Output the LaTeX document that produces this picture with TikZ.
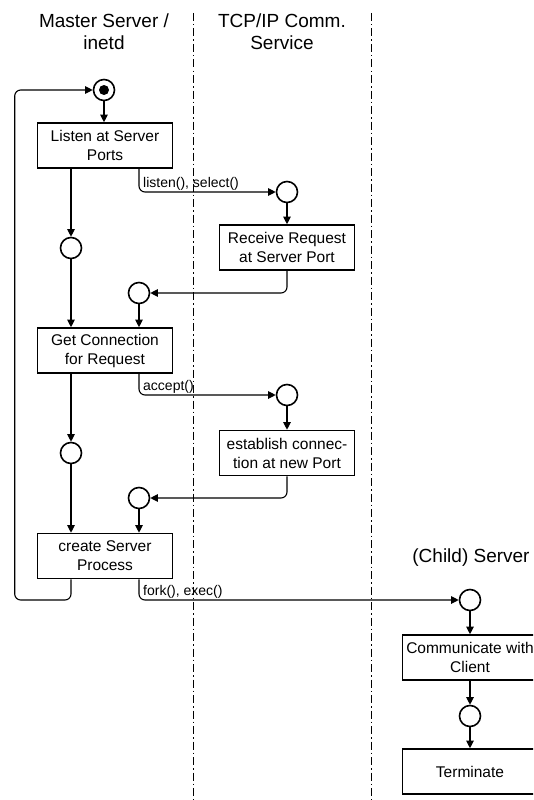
\documentclass[tikz,border=0pt]{standalone}
\usepackage{fontspec}
\setmainfont{Liberation Sans}
\usetikzlibrary{arrows.meta}
\begin{document}
\begin{tikzpicture}[x=1pt,y=-1pt,
 box/.style={draw, line width=1.6pt, minimum width=135pt, minimum height=45pt, inner sep=0pt, align=center, font=\fontsize{15.5}{19}\selectfont},
 st/.style={draw, circle, line width=1.6pt, minimum size=21pt, inner sep=0pt},
 conn/.style={line width=1.1pt, -{Triangle[length=7.5pt,width=7.5pt]}, rounded corners=6pt},
 lbl/.style={font=\fontsize{14}{16}\selectfont, anchor=base west, inner sep=0pt},
 head/.style={font=\fontsize{19}{22}\selectfont, align=center},
 lane/.style={line width=0.9pt, dash pattern=on 8pt off 3pt on 1.5pt off 3pt}]
\useasboundingbox (0,0) rectangle (533,800);
\clip (0,0) rectangle (533,800);
% lanes
\coordinate (la1) at (193,13); \coordinate (lb1) at (193,800);
\coordinate (la2) at (371,13); \coordinate (lb2) at (371,800);
\draw[lane] (la1) -- (lb1);
\draw[lane] (la2) -- (lb2);
% headers
\node[head] (h1) at (104,32) {Master Server /\\inetd};
\node[head] (h2) at (282,32) {TCP/IP Comm.\\Service};
\node[head] (h3) at (471,558) {(Child) Server};
% nodes
\node[st] (start) at (104,90) {};
\fill (start.center) circle (5pt);
\node[box] (listen) at (105,145.5) {Listen at Server\\Ports};
\node[st] (c1) at (287,192) {};
\node[box] (recv) at (287,247.5) {Receive Request\\at Server Port};
\node[st] (m1) at (71,248) {};
\node[st] (j1) at (139,293) {};
\node[box] (getc) at (105,350.5) {Get Connection\\for Request};
\node[st] (c2) at (287,395) {};
\node[box] (est) at (287,453) {establish connec-\\tion at new Port};
\node[st] (m2) at (71,453) {};
\node[st] (j2) at (139,498) {};
\node[box] (create) at (105,556) {create Server\\Process};
\node[st] (cc) at (470,600) {};
\node[box] (comm) at (470,657.5) {Communicate with\\Client};
\node[st] (cc2) at (470,716) {};
\node[box] (term) at (470,771.5) {Terminate};
% labels
\node[lbl] (l1) at (143,187.5) {listen(), select()};
\node[lbl] (l2) at (143,390.5) {accept()};
\node[lbl] (l3) at (143,595.5) {fork(), exec()};
% connectors
\coordinate (lp) at (14.7,600);
\draw[conn] ([xshift=-34pt]create.south) |- (lp) |- (start.west);
\draw[conn] (start.south) -- (start.south |- listen.north);
\draw[conn] ([xshift=34pt]listen.south) |- (c1.west);
\draw[conn] (c1.south) -- (recv.north);
\draw[conn] (recv.south) |- (j1.east);
\draw[conn] ([xshift=-34pt]listen.south) -- (m1.north);
\draw[conn] (m1.south) -- (m1.south |- getc.north);
\draw[conn] (j1.south) -- (j1.south |- getc.north);
\draw[conn] ([xshift=34pt]getc.south) |- (c2.west);
\draw[conn] (c2.south) -- (est.north);
\draw[conn] (est.south) |- (j2.east);
\draw[conn] ([xshift=-34pt]getc.south) -- (m2.north);
\draw[conn] (m2.south) -- (m2.south |- create.north);
\draw[conn] (j2.south) -- (j2.south |- create.north);
\draw[conn] ([xshift=34pt]create.south) |- (cc.west);
\draw[conn] (cc.south) -- (comm.north);
\draw[conn] (comm.south) -- (cc2.north);
\draw[conn] (cc2.south) -- (term.north);
\end{tikzpicture}
\end{document}
